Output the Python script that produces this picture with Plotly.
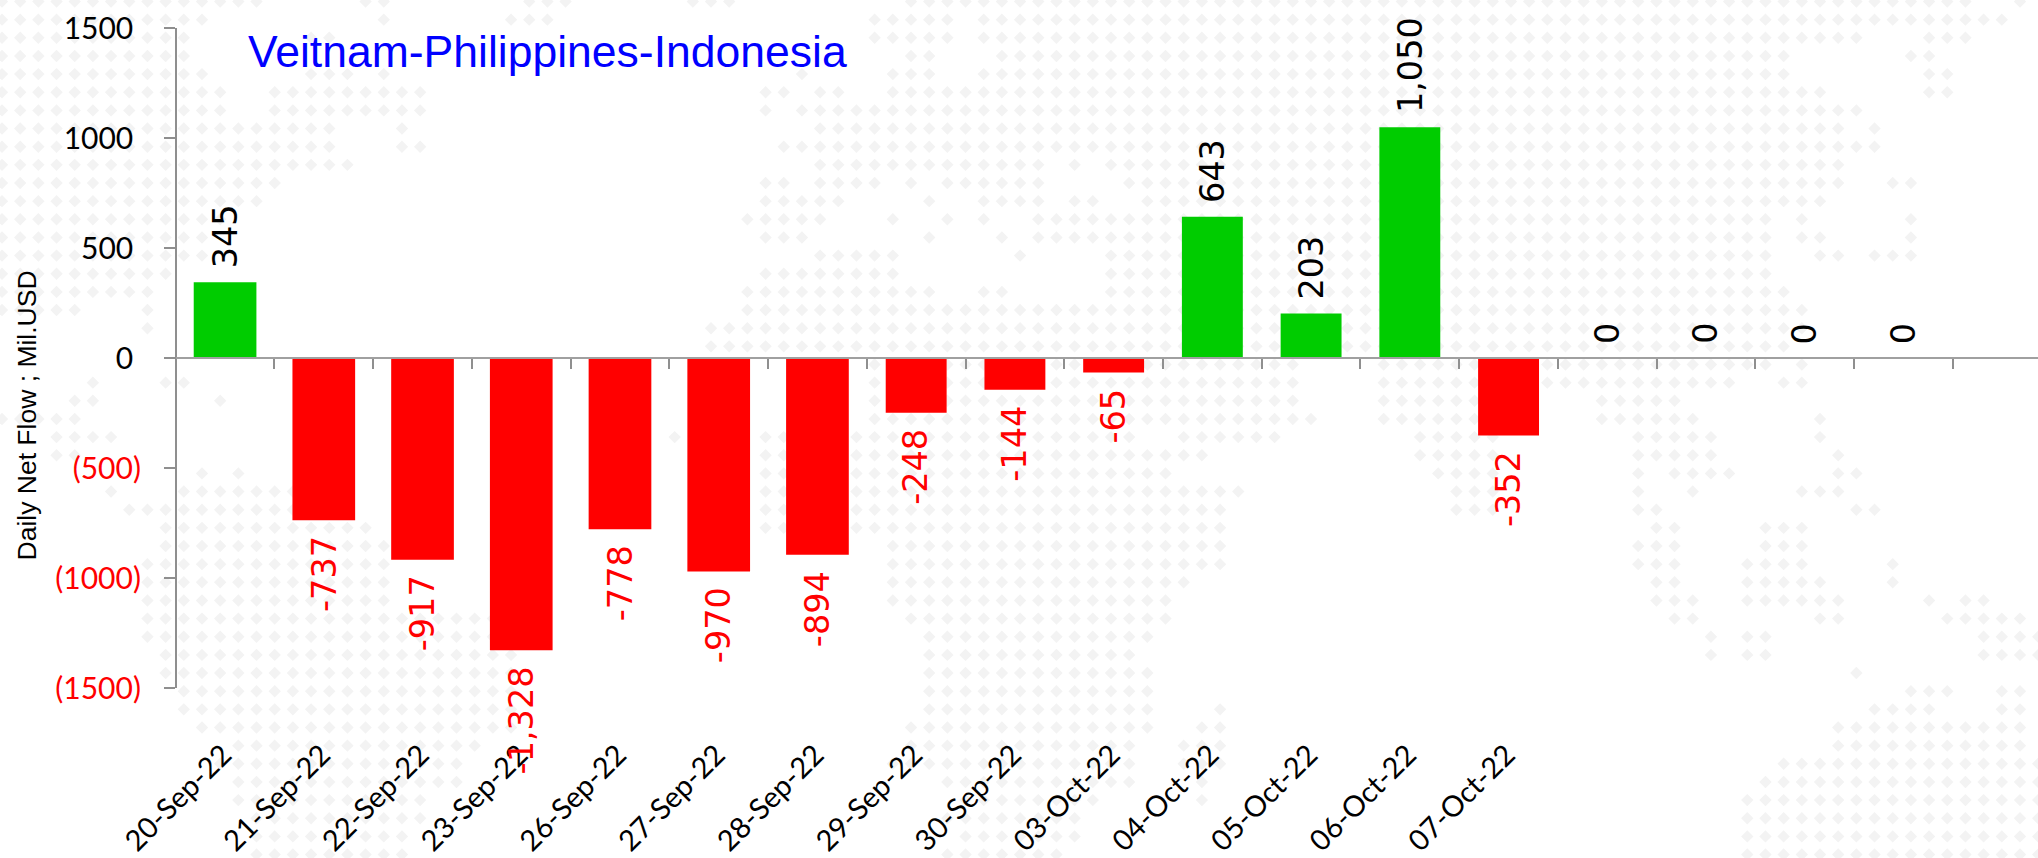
import plotly.graph_objects as go

W, H = 2038, 858

# ---- chart data -----------------------------------------------------------
dates = ["20-Sep-22", "21-Sep-22", "22-Sep-22", "23-Sep-22", "26-Sep-22", "27-Sep-22",
         "28-Sep-22", "29-Sep-22", "30-Sep-22", "03-Oct-22", "04-Oct-22", "05-Oct-22",
         "06-Oct-22", "07-Oct-22", "", "", "", ""]
net_flow = [345, -737, -917, -1328, -778, -970, -894, -248, -144, -65, 643, 203, 1050, -352,
            0, 0, 0, 0]
y_ticks = [1500, 1000, 500, 0, -500, -1000, -1500]
y_tick_text = ["1500", "1000", "500", "0", "(500)", "(1000)", "(1500)"]
title_text = "Veitnam-Philippines-Indonesia"
y_title = "Daily Net Flow ; Mil.USD"

# ---- background dotted world map: column index spans per row ---------------
map_rows = [
    [(0,14),(20,21),(29,31),(38,40),(50,108),(111,111)],
    [(0,11),(21,21),(28,30),(48,52),(54,110)],
    [(0,10),(17,18),(48,52),(54,102),(106,108)],
    [(0,10),(50,51),(55,98),(105,106)],
    [(0,11),(17,19),(21,21),(44,44),(49,51),(54,98),(106,107)],
    [(0,12),(15,23),(42,43),(45,46),(49,100),(106,107)],
    [(0,12),(15,23),(42,42),(44,102)],
    [(0,18),(22,22),(45,101),(103,103)],
    [(0,18),(22,23),(43,103)],
    [(0,19),(45,57),(59,59),(61,101)],
    [(0,15),(42,43),(45,48),(50,50),(52,57),(62,101),(104,105)],
    [(0,14),(42,46),(51,51),(54,57),(59,60),(63,100)],
    [(0,12),(41,45),(49,49),(52,52),(54,54),(57,97),(99,99),(105,105)],
    [(0,11),(42,44),(51,51),(55,55),(57,97),(99,100),(105,105)],
    [(0,11),(45,49),(56,56),(61,97),(100,101),(103,105)],
    [(0,9),(42,49),(61,97)],
    [(0,8),(41,51),(54,55),(61,98)],
    [(0,4),(8,8),(41,99)],
    [(8,8),(39,99)],
    [(39,98)],
    [(48,71),(76,97),(99,99)],
    [(5,5),(9,10),(48,71),(76,95),(98,99)],
    [(4,5),(12,12),(48,71),(76,81),(88,92)],
    [(0,4),(48,72),(76,81),(88,93),(100,100)],
    [(3,6),(37,37),(42,62),(65,70),(78,82),(90,94),(100,100)],
    [(3,4),(42,66),(78,82),(90,94),(101,101)],
    [(11,11),(13,13),(42,64),(79,82),(90,90),(92,95),(101,102)],
    [(6,6),(10,17),(42,68),(80,82),(90,90),(93,93),(99,101)],
    [(7,16),(42,67),(80,82),(90,91),(102,103)],
    [(9,20),(42,67),(91,92),(97,99)],
    [(9,21),(49,67),(90,92),(97,99)],
    [(8,21),(49,67),(90,92),(96,99),(104,104)],
    [(8,21),(49,65),(91,92),(96,100),(104,104)],
    [(8,21),(49,64),(91,93),(96,101),(106,106),(108,109)],
    [(8,28),(50,64),(92,93),(100,101),(107,111)],
    [(8,28),(51,63),(94,94),(96,97),(109,112)],
    [(9,28),(51,62),(94,94),(96,97),(109,112)],
    [(9,28),(51,63),(102,102)],
    [(10,28),(51,63),(105,107),(110,111)],
    [(10,28),(51,63),(67,67),(103,106),(110,111)],
    [(11,28),(50,63),(66,67),(101,111)],
    [(13,26),(50,62),(65,67),(101,111)],
    [(12,25),(49,62),(65,67),(98,112)],
    [(13,25),(52,62),(66,66),(97,112)],
    [(13,23),(53,60),(66,66),(96,112)],
    [(14,23),(52,59),(96,112)],
    [(14,22),(53,59),(96,112)],
    [(14,22),(52,58),(96,112)],
]
dot_x, dot_y = [], []
for k, spans in enumerate(map_rows):
    for a, b in spans:
        for i in range(a, b + 1):
            dot_x.append(2 + 18.18 * i)
            dot_y.append(1.5 + 18.15 * k)

# ---- page geometry (pixels) ------------------------------------------------
plot_left, plot_top, plot_bottom = 175.7, 28.3, 688.0
cat_width = 98.73
zero_y = (plot_top + plot_bottom) / 2
x_range = [-0.5, (W - plot_left) / cat_width - 0.5]
fx = lambda px: px / W
fy = lambda px: 1 - px / H

GREEN, RED, GREY = "#00CC00", "#FF0000", "#8F8F8F"
colors = [GREEN if v >= 0 else RED for v in net_flow]
idx = list(range(len(net_flow)))
bar_widths = [0.635 if i < 7 else 0.617 for i in idx]

fig = go.Figure()
fig.add_trace(go.Scatter(x=dot_x, y=dot_y, mode="markers", xaxis="x", yaxis="y",
                         marker=dict(symbol="diamond", size=9.5, color="#F3F3F3", line=dict(width=0)),
                         hoverinfo="skip", showlegend=False))
fig.add_trace(go.Bar(x=idx, y=net_flow, xaxis="x2", yaxis="y2", width=bar_widths,
                     marker=dict(color=colors, line=dict(width=0)), showlegend=False))
fig.add_trace(go.Scatter(x=idx, y=net_flow, xaxis="x3", yaxis="y2", mode="none",
                         hoverinfo="skip", showlegend=False))

annotations = []
for i, v in enumerate(net_flow):
    annotations.append(dict(
        x=i, y=v, xref="x2", yref="y2", text=f"{v:,}", showarrow=False, textangle=-90,
        xanchor="center", yanchor="bottom" if v >= 0 else "top",
        yshift=12 if v >= 0 else -14,
        font=dict(family="DejaVu Sans", size=33.5, color="black" if v >= 0 else RED)))
annotations.append(dict(
    x=fx(246), y=fy(52), xref="paper", yref="paper", text=title_text, showarrow=False,
    xanchor="left", yanchor="middle",
    font=dict(family="Liberation Sans", size=44.5, color="#0000FF")))
annotations.append(dict(
    x=fx(26), y=fy(415.5), xref="paper", yref="paper", text=y_title, showarrow=False,
    textangle=-90, xanchor="center", yanchor="middle",
    font=dict(family="Liberation Sans", size=26.5, color="black")))

tick_labels = [(t + "\u00a0") if v >= 0 else f'<span style="color:{RED}">{t}</span>'
               for t, v in zip(y_tick_text, y_ticks)]

fig.update_layout(
    template="none",
    width=W, height=H, margin=dict(l=0, r=0, t=0, b=0, pad=0), autosize=False,
    paper_bgcolor="white", plot_bgcolor="rgba(0,0,0,0)", showlegend=False,
    barmode="overlay", annotations=annotations,
    xaxis=dict(domain=[0, 1], range=[0, W], visible=False, fixedrange=True, automargin=False),
    yaxis=dict(domain=[0, 1], range=[H, 0], visible=False, fixedrange=True, automargin=False),
    xaxis2=dict(domain=[fx(plot_left), 1], range=x_range, anchor="free", position=fy(731),
                automargin=False, showgrid=False, zeroline=False, showline=False, ticks="",
                tickmode="array", tickvals=[i - 0.02 for i in idx], ticktext=dates, tickangle=-45,
                tickfont=dict(family="Lato", size=29, color="black")),
    yaxis2=dict(domain=[fy(plot_bottom), fy(plot_top)], range=[-1500, 1500], anchor="free",
                position=fx(plot_left), automargin=False, showgrid=False, zeroline=False,
                showline=True, linecolor=GREY, linewidth=1.5,
                ticks="outside", ticklen=11, tickwidth=1.5, tickcolor=GREY,
                ticklabelstandoff=17,
                tickmode="array", tickvals=y_ticks, ticktext=tick_labels,
                tickfont=dict(family="Lato", size=30, color="black")),
    xaxis3=dict(domain=[fx(plot_left), 1], range=x_range, overlaying="x2", anchor="free",
                position=fy(zero_y), automargin=False, showgrid=False, zeroline=False, showline=True,
                linecolor="#A0A0A0", linewidth=1.5, ticks="outside", ticklen=10, tickwidth=1.5,
                tickcolor=GREY, tickmode="array",
                tickvals=[i + 0.5 for i in range(18)], showticklabels=False),
)

fig.write_html("out.html", config=dict(displayModeBar=False),
               post_script="document.body.style.margin='0';")
